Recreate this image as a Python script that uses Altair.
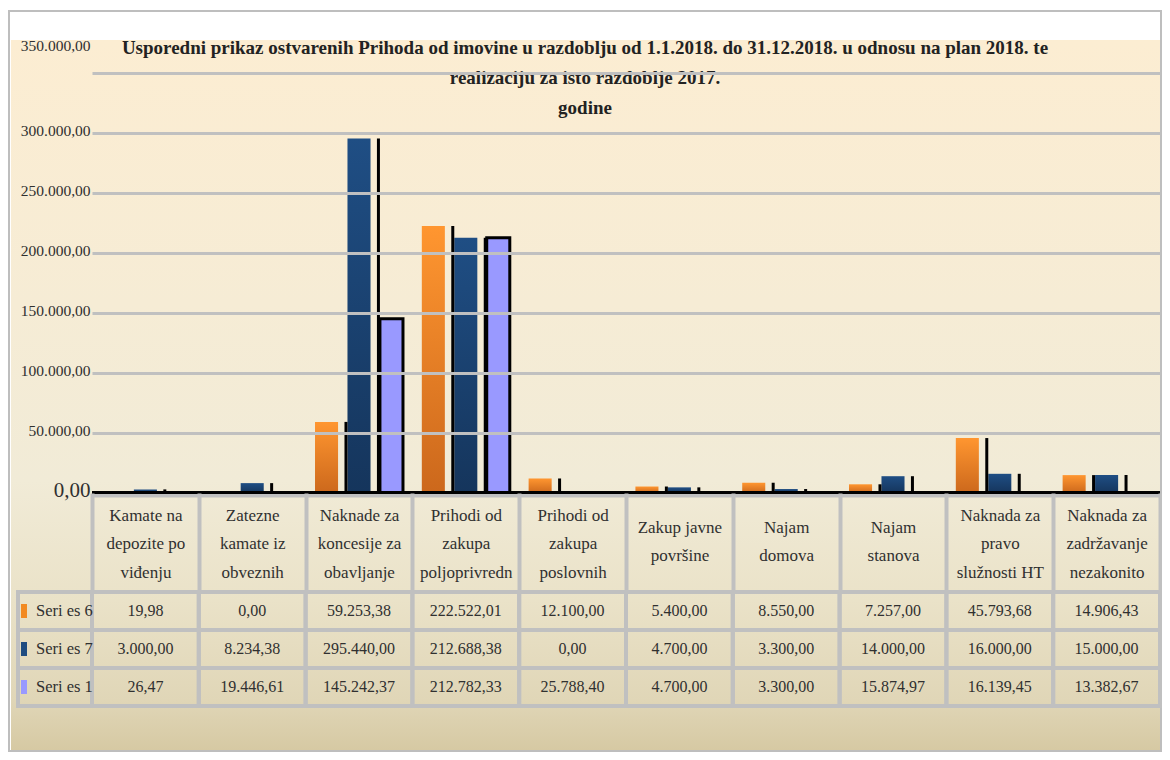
import altair as alt
import pandas as pd

# ---------------- data ----------------
categories = [
    "Kamate na\ndepozite po\nviđenju",
    "Zatezne\nkamate iz\nobveznih",
    "Naknade za\nkoncesije za\nobavljanje",
    "Prihodi od\nzakupa\npoljoprivredn",
    "Prihodi od\nzakupa\nposlovnih",
    "Zakup javne\npovršine",
    "Najam\ndomova",
    "Najam\nstanova",
    "Naknada za\npravo\nslužnosti HT",
    "Naknada za\nzadržavanje\nnezakonito",
]
series_names = ["Seri es 6", "Seri es 7", "Seri es 1"]
s6 = [19.98, 0.00, 59253.38, 222522.01, 12100.00, 5400.00, 8550.00, 7257.00, 45793.68, 14906.43]
s7 = [3000.00, 8234.38, 295440.00, 212688.38, 0.00, 4700.00, 3300.00, 14000.00, 16000.00, 15000.00]
s1 = [26.47, 19446.61, 145242.37, 212782.33, 25788.40, 4700.00, 3300.00, 15874.97, 16139.45, 13382.67]
# lavender bars as they appear in the picture (only two are drawn)
s1_drawn = [0, 0, 145242.37, 212782.33, 0, 0, 0, 0, 0, 0]
y_ticks = [0, 50000, 100000, 150000, 200000, 250000, 300000, 350000]
title_lines = [
    "Usporedni prikaz ostvarenih Prihoda od imovine u razdoblju od 1.1.2018. do 31.12.2018. u odnosu na plan 2018. te",
    "realizaciju za isto razdoblje 2017.",
    "godine",
]


def hr(v):
    s = f"{v:,.2f}"
    return s.replace(",", "X").replace(".", ",").replace("X", ".")


table_vals = {"Seri es 6": s6, "Seri es 7": s7, "Seri es 1": s1}
bar_vals = {"Seri es 6": s6, "Seri es 7": s7, "Seri es 1": s1_drawn}

bars_df = pd.DataFrame(
    [{"cat": c, "series": s, "value": bar_vals[s][i]} for s in series_names for i, c in enumerate(categories)]
)
shadow7_df = pd.DataFrame({"cat": categories, "value": s6})
shadow1_df = pd.DataFrame({"cat": categories, "value": s7})
table_df = pd.DataFrame(
    [{"cat": c, "row": s, "label": hr(table_vals[s][i])} for s in series_names for i, c in enumerate(categories)]
)
rows_df = pd.DataFrame({"row": series_names})
one = pd.DataFrame({"k": [0]})

# ---------------- layout / style ----------------
W, H = 1068, 633
BAR_H = 420
HDR = 99
FONT = "Liberation Serif"
GRID = "#C0C0C0"
TXT = "#303030"
P_OFF = 0.29

xscale = alt.Scale(domain=categories, paddingInner=0, paddingOuter=0)
offscale = alt.Scale(domain=series_names, paddingInner=P_OFF, paddingOuter=P_OFF)
yscale = alt.Scale(domain=[0, 350000], range=[BAR_H, 0], nice=False, zero=True)
rowscale = alt.Scale(domain=series_names, range=[BAR_H + HDR, H], paddingInner=0, paddingOuter=0)

xaxis = alt.Axis(
    orient="bottom", offset=-(H - BAR_H), labelExpr="split(datum.label, '\\n')",
    labelFont=FONT, labelFontSize=17, labelColor=TXT, labelLineHeight=28.5,
    labelBaseline="middle",
    labelPadding={"condition": {"test": "length(split(datum.label, '\\n')) === 2", "value": 34 - HDR},
                  "value": 22 - HDR},
    labelAngle=0, labelLimit=0,
    ticks=True, tickBand="extent", tickSize=HDR, tickColor=GRID, tickWidth=4,
    domain=False, grid=False, zindex=1, title=None,
)
yaxis = alt.Axis(
    values=y_ticks,
    labelExpr="replace(format(datum.value, ','), ',', '.') + ',00'",
    labelFont=FONT,
    labelFontSize={"condition": {"test": "datum.value === 0", "value": 21}, "value": 15.5},
    labelOffset={"condition": {"test": "datum.value === 350000", "value": -28}, "value": -3},
    labelColor=TXT, labelPadding=2, ticks=False, domain=False,
    grid=True, gridWidth=3,
    gridColor={"condition": {"test": "datum.value === 0", "value": "transparent"}, "value": GRID},
    zindex=1, title=None,
)


def vgrad(stops):
    return alt.Gradient(
        gradient="linear", x1=0, x2=0, y1=0, y2=1,
        stops=[alt.GradientStop(color=c, offset=o) for o, c in stops],
    )


# left edge (minus 1.5 px) of the 2nd and 3rd bar inside each category band
_step = 1.0 / (3 - P_OFF + 2 * P_OFF)
_col_px = W / len(categories)
band_pos_7 = (P_OFF + 1) * _step - 1.5 / _col_px
band_pos_1 = (P_OFF + 2) * _step - 1.5 / _col_px

frame = alt.Chart(one).mark_rect(fill="white", stroke="#BEBEBE", strokeWidth=2).encode(
    x=alt.value(-83), x2=alt.value(W + 1), y=alt.value(-62), y2=alt.value(678)
)
bg = alt.Chart(one).mark_rect(
    fill=vgrad([(0, "#FCEDD2"), (0.37, "#F6ECD5"), (0.62, "#F1EBD7"), (0.79, "#EAE2C8"), (0.93, "#E0D6B7"), (1, "#D6C9A3")])
).encode(x=alt.value(-81), x2=alt.value(W), y=alt.value(-33), y2=alt.value(677))

X = alt.X("cat:N", scale=xscale, axis=xaxis)
XO = alt.XOffset("series:N", scale=offscale)
Y = alt.Y("value:Q", scale=yscale, axis=yaxis)

bar6 = alt.Chart(bars_df).transform_filter(alt.datum.series == "Seri es 6").mark_bar(
    color=vgrad([(0, "#FF9630"), (1, "#CC681C")])
).encode(x=X, xOffset=XO, y=Y)
bar7 = alt.Chart(bars_df).transform_filter(alt.datum.series == "Seri es 7").mark_bar(
    color=vgrad([(0, "#1F4E84"), (1, "#15355C")])
).encode(x=X, xOffset=XO, y=Y)
bar1 = alt.Chart(bars_df).transform_filter(alt.datum.series == "Seri es 1").mark_bar(
    color="#9999FF", stroke="black", strokeWidth=3
).encode(x=X, xOffset=XO, y=Y)

shadow7 = alt.Chart(shadow7_df).mark_rule(color="black", strokeWidth=3).encode(
    x=alt.X("cat:N", scale=xscale, axis=xaxis, bandPosition=band_pos_7),
    y=Y, y2=alt.datum(0),
)
shadow1 = alt.Chart(shadow1_df).mark_rule(color="black", strokeWidth=3).encode(
    x=alt.X("cat:N", scale=xscale, axis=xaxis, bandPosition=band_pos_1),
    y=Y, y2=alt.datum(0),
)
base_gray = alt.Chart(one).mark_rule(color=GRID, strokeWidth=4, yOffset=2.5).encode(y=alt.datum(0))
base_black = alt.Chart(one).mark_rule(color="black", strokeWidth=3, yOffset=-0.5).encode(y=alt.datum(0))

plot_layer = alt.layer(frame, bg, bar6, bar7, bar1, shadow7, shadow1, base_gray, base_black)

TX = alt.X("cat:N", scale=xscale, axis=xaxis)
TY = alt.Y("row:N", scale=rowscale, axis=None)
cells = alt.Chart(table_df).mark_rect(fill="white", fillOpacity=0, stroke=GRID, strokeWidth=4).encode(x=TX, y=TY)
texts = alt.Chart(table_df).mark_text(font=FONT, fontSize=16, color=TXT).encode(x=TX, y=TY, text="label:N")
label_cells = alt.Chart(rows_df).mark_rect(fill="white", fillOpacity=0, stroke=GRID, strokeWidth=4).encode(
    x=alt.value(-74), x2=alt.value(0), y=TY
)
swatches = alt.Chart(rows_df).mark_point(
    shape="M-0.43,-1H0.43V1H-0.43Z", size=196, filled=True, opacity=1
).encode(
    x=alt.value(-68), y=TY,
    color=alt.Color("row:N", scale=alt.Scale(domain=series_names, range=["#F28A22", "#1F4C80", "#9999FF"]), legend=None),
)
label_texts = alt.Chart(rows_df).mark_text(font=FONT, fontSize=16.5, color=TXT, align="left").encode(
    x=alt.value(-56), y=TY, text="row:N"
)
table_layer = alt.layer(cells, texts, label_cells, swatches, label_texts)

chart = (
    alt.layer(plot_layer, table_layer)
    .resolve_scale(y="independent", color="independent")
    .properties(
        width=W, height=H,
        title=alt.TitleParams(
            text=title_lines, font=FONT, fontSize=19, fontWeight="bold", color="#222222",
            lineHeight=30, anchor="middle", frame="bounds", offset=-108,
        ),
        padding={"left": 0, "top": 2, "right": 0, "bottom": 0},
        background="white",
    )
    .configure_view(strokeWidth=0)
)

chart.save("out.html", embed_options={"renderer": "svg", "actions": False})
